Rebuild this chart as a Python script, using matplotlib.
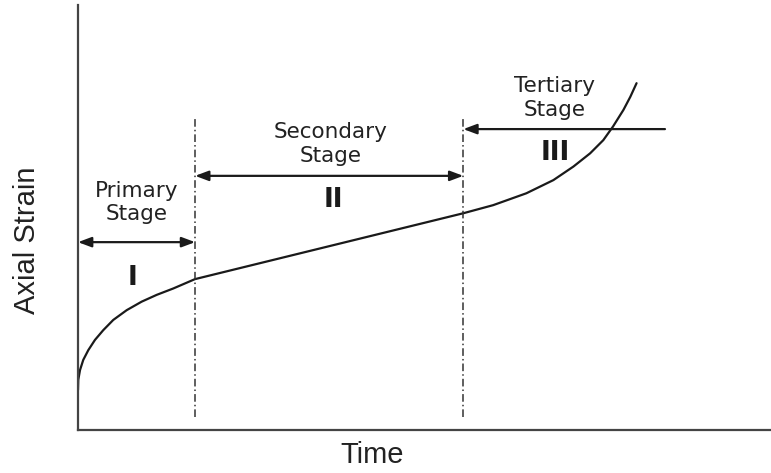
import matplotlib.pyplot as plt

# creep curve (arbitrary time / strain units, 0-10)
time = [0.000, 0.004, 0.029, 0.076, 0.149, 0.245, 0.365, 0.509, 0.703,
        0.919, 1.136, 1.375, 1.688,
        5.56, 5.99, 6.47, 6.86, 7.15, 7.39, 7.58, 7.72, 7.87, 7.97, 8.06]
strain = [0.94, 1.18, 1.41, 1.65, 1.88, 2.12, 2.35, 2.59, 2.82,
          3.02, 3.18, 3.33, 3.55,
          5.10, 5.29, 5.57, 5.88, 6.20, 6.51, 6.82, 7.14, 7.53, 7.84, 8.16]

# stage boundaries on the time axis
bounds = [0.0, 1.69, 5.56, 8.47]
stage_names = ["Primary\nStage", "Secondary\nStage", "Tertiary\nStage"]
stage_nums = ["I", "II", "III"]

ink = "#1a1a1a"
fig = plt.figure(figsize=(7.71, 4.73), dpi=100)
ax = fig.add_axes([78 / 771, 43 / 473, 693 / 771, 425 / 473])
ax.set_xlim(0, 10)
ax.set_ylim(0, 10)
for s in ["top", "right"]:
    ax.spines[s].set_visible(False)
for s in ["left", "bottom"]:
    ax.spines[s].set_color("#444444")
    ax.spines[s].set_linewidth(1.6)
ax.set_xticks([])
ax.set_yticks([])

ax.plot(time, strain, color=ink, lw=1.6, solid_capstyle="round",
        solid_joinstyle="round")

# dash-dot boundaries
for b in bounds[1:3]:
    ax.plot([b, b], [0.31, 7.34], color="#333333", lw=1.1,
            linestyle=(0, (5, 2, 1, 2)))

head = dict(arrowstyle="<|-|>,head_length=0.8,head_width=0.3",
            color=ink, lw=1.6, shrinkA=0, shrinkB=0)
ax.annotate("", xy=(bounds[0], 4.42), xytext=(bounds[1], 4.42),
            arrowprops=head, annotation_clip=False)
ax.annotate("", xy=(bounds[1], 5.98), xytext=(bounds[2], 5.98),
            arrowprops=head, annotation_clip=False)
ax.annotate("", xy=(bounds[2], 7.08), xytext=(bounds[3], 7.08),
            arrowprops=dict(arrowstyle="-|>,head_length=0.8,head_width=0.3",
                            color=ink, lw=1.6, shrinkA=0, shrinkB=0))

name_pos = [(0.85, 5.36), (3.64, 6.73), (6.88, 7.81)]
num_pos = [(0.79, 3.58), (3.68, 5.41), (6.88, 6.52)]
for name, (x, y) in zip(stage_names, name_pos):
    ax.text(x, y, name, ha="center", va="center", fontsize=15.5,
            color="#222222", linespacing=1.2, family="DejaVu Sans")
for num, (x, y) in zip(stage_nums, num_pos):
    ax.text(x, y, num, ha="center", va="center", fontsize=19,
            fontweight="bold", color=ink, family="DejaVu Sans")

fig.text(27 / 771, 1 - 240 / 473, "Axial Strain", rotation=90,
         ha="center", va="center", fontsize=21, color="#222222",
         family="Liberation Sans")
fig.text(372 / 771, 1 - 455 / 473, "Time", ha="center", va="center",
         fontsize=21, color="#222222", family="Liberation Sans")

fig.savefig("out.png", dpi=100)
